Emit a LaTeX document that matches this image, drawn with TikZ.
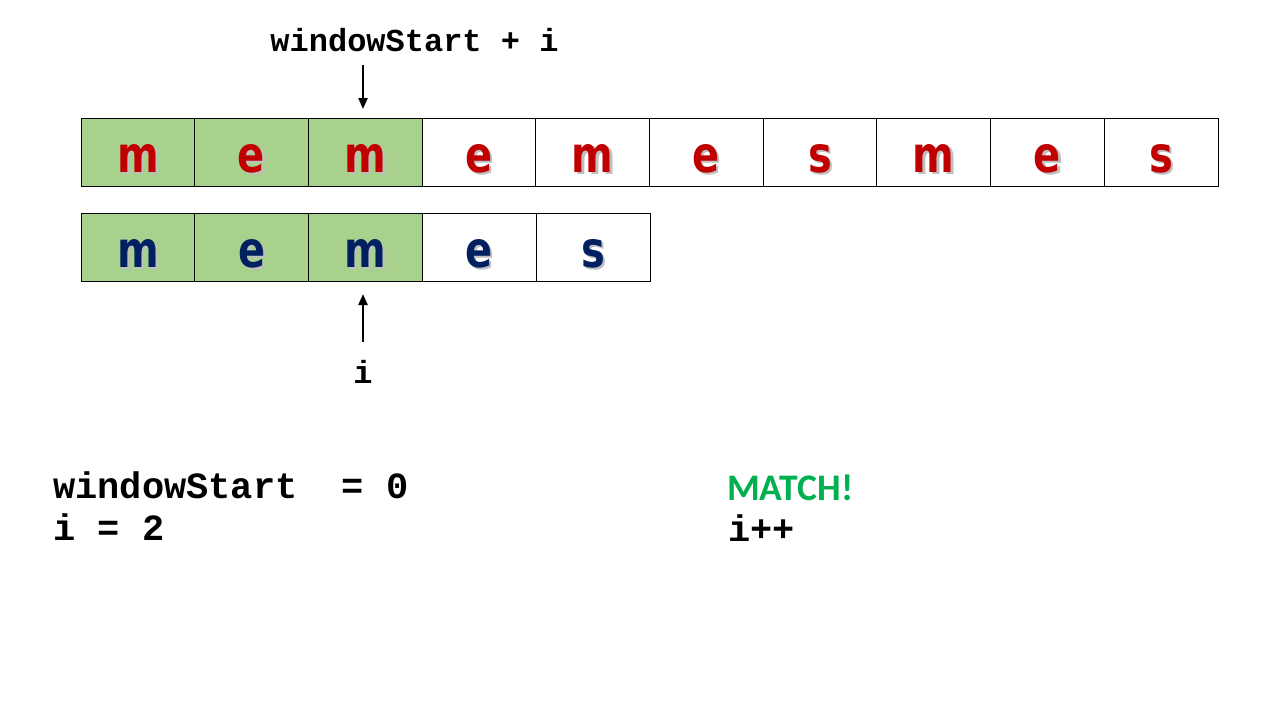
\documentclass[tikz,border=0pt]{standalone}
\usepackage{fontspec}
\setmainfont{DejaVu Sans}
\setmonofont{Liberation Mono}
\newfontfamily\letterfont[FakeStretch=0.8]{DejaVu Sans}
\newfontfamily\matchfont{Carlito}
\usetikzlibrary{arrows.meta}
\definecolor{cellgreen}{HTML}{A9D18E}
\definecolor{letred}{HTML}{C00000}
\definecolor{letblue}{HTML}{002060}
\definecolor{matchgreen}{HTML}{00B050}
\tikzset{
  cell/.style={draw=black, line width=0.9pt, rectangle, minimum width=113.7pt, minimum height=68pt, inner sep=0pt},
  lettxt/.style={font=\letterfont\bfseries\fontsize{50}{50}\selectfont, anchor=base, inner sep=0pt},
  shadowtxt/.style={lettxt, text=black!25},
  codetxt/.style={font=\ttfamily\bfseries\fontsize{37}{37}\selectfont, anchor=base west, inner sep=0pt},
  smallcode/.style={font=\ttfamily\bfseries\fontsize{32}{32}\selectfont, anchor=base, inner sep=0pt},
  ptr/.style={line width=2.2pt, -{Triangle[length=11pt,width=9pt]}}
}
\begin{document}
\begin{tikzpicture}[x=1pt,y=-1pt]
\useasboundingbox (0,0) rectangle (1280,720);
\fill[white] (0,0) rectangle (1280,720);
% top row
\foreach \l/\c [count=\k] in {m/cellgreen,e/cellgreen,m/cellgreen,e/white,m/white,e/white,s/white,m/white,e/white,s/white}{
  \node[cell, fill=\c] (t\k) at ({81+113.7*(\k-0.5)},152) {};
  \node[shadowtxt] (ts\k) at ([shift={(2.2,22.2)}]t\k.center) {\l};
  \node[lettxt, text=letred] (tl\k) at ([shift={(0,20)}]t\k.center) {\l};
}
% bottom row
\foreach \l/\c [count=\k] in {m/cellgreen,e/cellgreen,m/cellgreen,e/white,s/white}{
  \node[cell, fill=\c] (b\k) at ({81+113.8*(\k-0.5)},247) {};
  \node[shadowtxt] (bs\k) at ([shift={(2.2,22.2)}]b\k.center) {\l};
  \node[lettxt, text=letblue] (bl\k) at ([shift={(0,20)}]b\k.center) {\l};
}
% pointers
\node[smallcode] (wsi) at (414.5,51) {windowStart + i};
\coordinate (topstart) at (363,65);
\coordinate (topend) at (363,109);
\draw[ptr] (topstart) -- (topend);
\node[smallcode] (ilab) at (363,383) {i};
\coordinate (botstart) at (363,342);
\coordinate (botend) at (363,294);
\draw[ptr] (botstart) -- (botend);
% state
\node[codetxt] (ws) at (53,498) {windowStart\ \ = 0};
\node[codetxt] (iv) at (53,540) {i = 2};
\node[anchor=base west, inner sep=0pt, text=matchgreen, font=\matchfont\bfseries\fontsize{37.5}{37.5}\selectfont] (match) at (727,500) {MATCH!};
\node[codetxt] (ipp) at (728,541) {i++};
\end{tikzpicture}
\end{document}
